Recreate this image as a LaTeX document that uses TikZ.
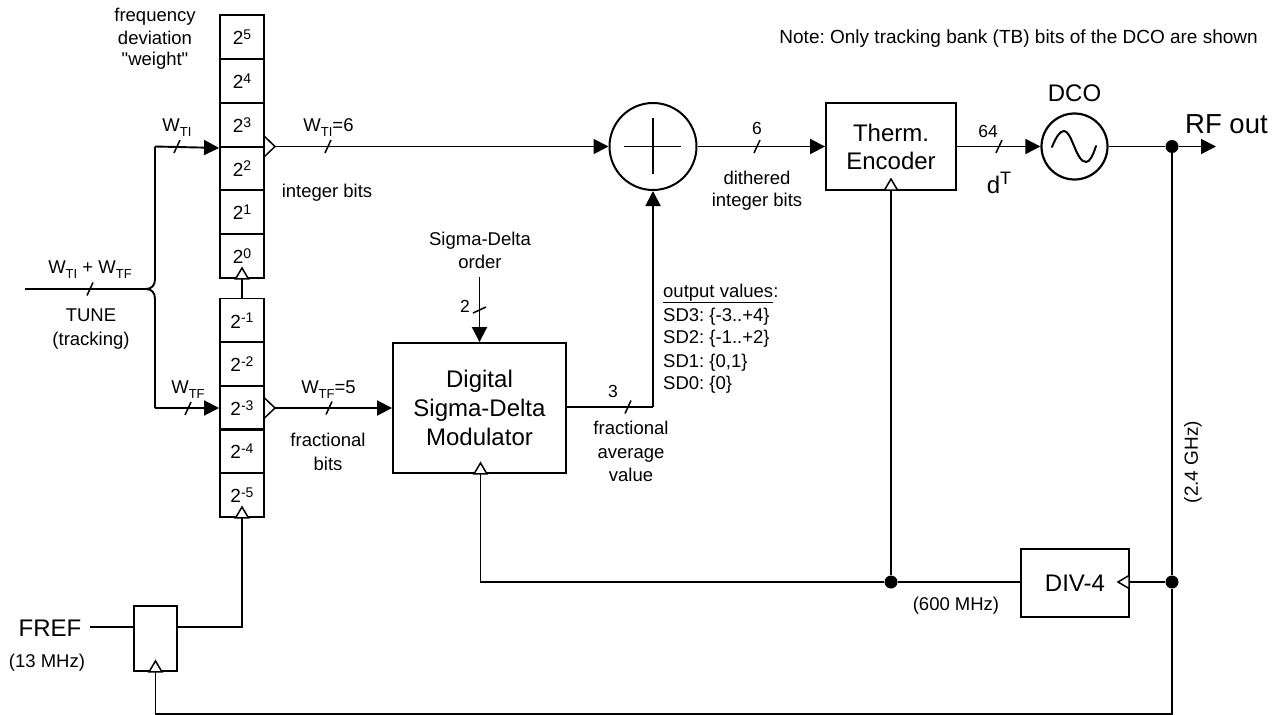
\documentclass[tikz,border=0pt]{standalone}
\usepackage{fontspec}
\setmainfont{Liberation Sans}[Ligatures=TeXOff]
\usetikzlibrary{arrows.meta}
\newcommand{\fs}[1]{\fontsize{#1}{#1}\selectfont}
\newcommand{\sbs}[1]{\raisebox{-5.5pt}{\fs{13}#1}}
\newcommand{\sps}[1]{\raisebox{5.5pt}{\fs{14}#1}}
\tikzset{
  sig/.style={line width=1.9pt,line join=miter},
  arr/.style={sig,-{Triangle[length=15pt,width=15pt]}},
  boxx/.style={draw,line width=1.9pt,inner sep=0pt,align=center},
  cell/.style={boxx,minimum width=44pt,minimum height=44pt,font=\fs{19}},
  big/.style={font=\fs{24},align=center,inner sep=0pt,anchor=base},
  txt/.style={font=\fs{18.5},align=center,inner sep=0pt,anchor=base},
  small/.style={font=\fs{17.5},align=center,inner sep=0pt,anchor=base},
  leftt/.style={font=\fs{18.5},anchor=base west,inner sep=0pt},
  dotn/.style={circle,fill,inner sep=0pt,minimum size=13pt},
  opent/.style={fill=white,line width=1.5pt,line join=miter},
  tk/.style={line width=1.5pt}
}
\newcommand{\tickh}[1]{\draw[tk] ([shift={(-3,6.5)}]#1) -- ([shift={(3,-6.5)}]#1);}
\newcommand{\tickv}[1]{\draw[tk] ([shift={(-6.5,3)}]#1) -- ([shift={(6.5,-3)}]#1);}
\newcommand{\trup}[1]{\draw[opent] ([shift={(-6.5,0)}]#1) -- ([shift={(0,-11)}]#1) -- ([shift={(6.5,0)}]#1) -- cycle;}
\newcommand{\trright}[1]{\draw[opent] ([shift={(0,-10.5)}]#1) -- ([shift={(11,0)}]#1) -- ([shift={(0,10.5)}]#1) -- cycle;}
\newcommand{\trleft}[1]{\draw[opent] ([shift={(0,-6.5)}]#1) -- ([shift={(-11,0)}]#1) -- ([shift={(0,6.5)}]#1) -- cycle;}
\frenchspacing
\begin{document}
\begin{tikzpicture}[x=1pt,y=-1pt]
\useasboundingbox (0,0) rectangle (1275,715);
% upper register
\node[cell] (c5) at (242,37) {2\sps{5}};
\node[cell] (c4) at (242,81) {2\sps{4}};
\node[cell] (c3) at (242,125) {2\sps{3}};
\node[cell] (c2) at (242,168.5) {2\sps{2}};
\node[cell] (c1) at (242,212) {2\sps{1}};
\node[cell] (c0) at (242,256) {2\sps{0}};
% lower register
\node[cell] (m1) at (242,320.5) {2\sps{-1}};
\node[cell] (m2) at (242,364) {2\sps{-2}};
\node[cell] (m3) at (242,408) {2\sps{-3}};
\node[cell] (m4) at (242,451) {2\sps{-4}};
\node[cell] (m5) at (242,495) {2\sps{-5}};
% blocks
\node[circle,draw,line width=2pt,minimum size=87pt,inner sep=0pt] (sum) at (653,146.5) {};
\node[boxx,minimum width=130pt,minimum height=87pt,font=\fs{24}] (therm) at (891,146.5) {Therm.\\[4pt]Encoder};
\node[circle,draw,line width=2.2pt,minimum size=66pt,inner sep=0pt] (dco) at (1074.5,146.5) {};
\node[boxx,minimum width=173pt,minimum height=130pt,font=\fs{24}] (sdm) at (479.5,408) {Digital\\[5pt]Sigma-Delta\\[5pt]Modulator};
\node[boxx,minimum width=108pt,minimum height=68pt,font=\fs{24}] (div) at (1075,583) {DIV-4};
\node[boxx,minimum width=43pt,minimum height=65pt] (ff) at (155.5,638.5) {};
% junctions
\node[dotn] (d1) at (1172,146.5) {};
\node[dotn] (d2) at (1172,582) {};
\node[dotn] (d3) at (891,582) {};
\coordinate (tunein) at (25,289);
\coordinate (brU) at (155,146.5);
\coordinate (brL) at (155,408);
\coordinate (u3) at (264,146.5);
\coordinate (l3) at (264,408);
\coordinate (rfout) at (1216,146.5);
\coordinate (bl) at (155.5,714);
\coordinate (br) at (1172,714);
\coordinate (sdin) at (479.5,277);
\coordinate (sdout) at (653,407);
\coordinate (frefin) at (90,627);
\coordinate (ffq) at (242,627);
\coordinate (thermfb) at (891,190);
\coordinate (sdmfb) at (480.5,582);
\coordinate (divin) at (1129,582);
% text
\node[txt] at (155,21) {frequency};
\node[txt] at (155,44) {deviation};
\node[txt] at (155,65.5) {"weight"};
\node[txt] at (177,131) {W\sbs{TI}};
\node[txt] at (328.5,131) {W\sbs{TI}=6};
\node[txt] at (90,273) {W\sbs{TI} + W\sbs{TF}};
\node[txt] at (188,393) {W\sbs{TF}};
\node[txt] at (328.5,393) {W\sbs{TF}=5};
\node[txt] at (327,197) {integer bits};
\node[txt] at (91,321) {TUNE};
\node[txt] at (91,345) {(tracking)};
\node[txt] at (328,446) {fractional};
\node[txt] at (328,470) {bits};
\node[big] at (50,636) {FREF};
\node[txt] at (47,667) {(13 MHz)};
\node[txt] at (480,245) {Sigma-Delta};
\node[txt] at (480,268) {order};
\node[small] at (465,312) {2};
\node[small] at (613,397) {3};
\node[txt] at (631,434) {fractional};
\node[txt] at (631,458) {average};
\node[txt] at (631,481) {value};
\node[leftt] at (663,297) {\underline{output values}:};
\node[leftt] at (663,321) {SD3: \{-3..+4\}};
\node[leftt] at (663,343) {SD2: \{-1..+2\}};
\node[leftt] at (663,367) {SD1: \{0,1\}};
\node[leftt] at (663,389) {SD0: \{0\}};
\node[small] at (757,134) {6};
\node[txt] at (757,184) {dithered};
\node[txt] at (757,206) {integer bits};
\node[small] at (988,137) {64};
\node[big] at (999,193) {d\raisebox{9pt}{\fs{18}T}};
\node[big] at (1074.5,101) {DCO};
\node[font=\fs{27.5},anchor=base west,inner sep=0pt] at (1185,133) {RF out};
\node[font=\fs{19},anchor=base east,inner sep=0pt] at (1258,43) {Note: Only tracking bank (TB) bits of the DCO are shown};
\node[txt] at (956,610) {(600 MHz)};
\node[font=\fs{19},rotate=90,inner sep=0pt] at (1193,462) {(2.4 GHz)};
% connectors
\draw[sig] (tunein) -- (146,289) .. controls (152,289) and (155,285) .. (155,279) -- (brU);
\draw[sig] (146,289) .. controls (152,289) and (155,293) .. (155,299) -- (brL);
\draw[arr] (brU) -- (c3.south west);
\draw[arr] (brL) -- (m3.west);
\draw[arr] (u3) -- (sum.west);
\draw[arr] (l3) -- (sdm.west);
\draw[arr] (sum.east) -- (therm.west);
\draw[arr] (therm.east) -- (dco.west);
\draw[sig] (dco.east) -- (d1);
\draw[arr] (d1) -- (rfout);
\draw[sig] (d1) -- (d2);
\draw[sig] (d2) -- (br) -- (bl) -- (ff.south);
\draw[sig] (d2) -- (divin);
\draw[sig] (div.west |- divin) -- (d3);
\draw[sig] (d3) -- (sdmfb) -- (sdmfb |- sdm.south);
\draw[sig] (d3) -- (thermfb);
\draw[arr] (sdin) -- (sdm.north);
\draw[sig] (sdm.east |- sdout) -- (sdout);
\draw[arr] (sdout) -- (sum.south);
\draw[sig] (m1.north) -- (c0.south);
\draw[sig] (frefin) -- (ff.west |- frefin);
\draw[sig] (ff.east |- ffq) -- (ffq) -- (m5.south);
% open triangles
\trup{c0.south}
\trup{m5.south}
\trup{ff.south}
\trup{sdmfb |- sdm.south}
\trup{thermfb}
\trright{u3}
\trright{l3}
\trleft{divin}
% ticks
\tickh{177,146.5}
\tickh{328,146.5}
\tickh{90,289}
\tickh{188,408.5}
\tickh{329,408}
\tickh{757,146.5}
\tickh{628,407}
\tickh{999,146.5}
\tickv{479.5,310}
% summer plus and sine
\draw[sig] (624,146.5) -- (681,146.5);
\draw[sig] (653,118) -- (653,174);
\draw[line width=2pt,line cap=round] (1052,147) .. controls (1056,137) and (1060,131) .. (1064,131) .. controls (1072,131) and (1076,162) .. (1086,162) .. controls (1090,162) and (1093,155) .. (1096,146);
\end{tikzpicture}
\end{document}
